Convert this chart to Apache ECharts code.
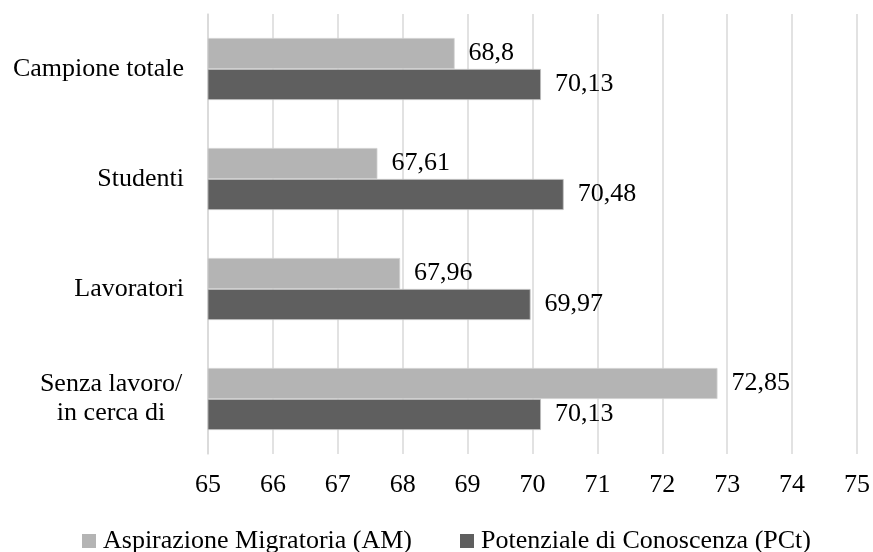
<!DOCTYPE html>
<html>
<head>
<meta charset="utf-8">
<script src="https://cdn.jsdelivr.net/npm/echarts@6/dist/echarts.min.js"></script>
<style>html,body{margin:0;padding:0;background:#fff}#c{width:873px;height:552px}</style>
</head>
<body>
<div id="c"></div>
<script>
const categories = ['Campione totale', 'Studenti', 'Lavoratori', 'Senza lavoro/\nin cerca di'];
const seriesNames = ['Aspirazione Migratoria (AM)', 'Potenziale di Conoscenza (PCt)'];
const amValues = [68.8, 67.61, 67.96, 72.85];
const pctValues = [70.13, 70.48, 69.97, 70.13];
const xMin = 65, xMax = 75, xStep = 1;

const FONT = 'Liberation Serif';
const chart = echarts.init(document.getElementById('c'), null, {renderer: 'canvas'});
const labelFmt = p => String(p.value).replace('.', ',');
const valueLabel = {show: true, position: 'right', distance: 14, color: '#000', fontFamily: FONT, fontSize: 26, formatter: labelFmt};

chart.setOption({
  animation: false,
  backgroundColor: '#fff',
  grid: {left: 208, right: 15, top: 14, bottom: 98, containLabel: false},
  legend: {
    data: seriesNames, left: 77, top: 523, itemWidth: 14, itemHeight: 14, itemGap: 48,
    icon: 'rect', itemStyle: {borderWidth: 0},
    textStyle: {fontFamily: FONT, fontSize: 26, color: '#000', padding: [0, 0, 0, 2]}
  },
  xAxis: {
    type: 'value', min: xMin, max: xMax, interval: xStep,
    axisLine: {show: false}, axisTick: {show: false},
    splitLine: {show: true, lineStyle: {color: '#d9d9d9', width: 1.5}},
    axisLabel: {fontFamily: FONT, fontSize: 26, color: '#000', margin: 18}
  },
  yAxis: {
    type: 'category', data: categories, inverse: true,
    axisLine: {show: true, lineStyle: {color: '#d9d9d9', width: 1.5}},
    axisTick: {show: false},
    axisLabel: {
      fontFamily: FONT, fontSize: 26, color: '#000', margin: 24, lineHeight: 29,
      formatter: v => v.indexOf('\n') >= 0 ? '{m|' + v + '}' : v,
      rich: {m: {width: 146, align: 'center', fontFamily: FONT, fontSize: 26, lineHeight: 29, color: '#000'}}
    }
  },
  series: [
    {name: seriesNames[0], type: 'bar', data: amValues, barWidth: 31, barGap: '0%',
     itemStyle: {color: '#b4b4b4', borderColor: '#cfcfcf', borderWidth: 0.8}, label: valueLabel},
    {name: seriesNames[1], type: 'bar', data: pctValues, barWidth: 31, barGap: '0%',
     itemStyle: {color: '#5f5f5f', borderColor: '#bdbdbd', borderWidth: 0.8}, label: valueLabel}
  ]
});
</script>
</body>
</html>
